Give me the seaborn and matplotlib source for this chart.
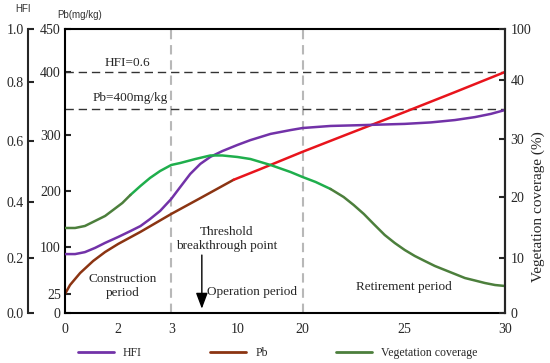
import numpy as np
import pandas as pd
import matplotlib
matplotlib.use("Agg")
import matplotlib.pyplot as plt
import seaborn as sns
from matplotlib.lines import Line2D
from matplotlib.ticker import FixedLocator, FixedFormatter, NullLocator

# ---------------- data ----------------
x_ticks = [0, 2, 3, 10, 20, 25, 30]
x_tick_labels = ["0", "2", "3", "10", "20", "25", "30"]
pb_ticks = [0, 25, 100, 200, 300, 400, 450]
pb_tick_labels = ["0", "25", "100", "200", "300", "400", "450"]
hfi_ticks = [0.0, 0.2, 0.4, 0.6, 0.8, 1.0]
hfi_tick_labels = ["0.0", "0.2", "0.4", "0.6", "0.8", "1.0"]
veg_ticks = [0, 10, 20, 30, 40, 100]
veg_tick_labels = ["0", "10", "20", "30", "40", "100"]

hfi_years = [0, 0.38, 0.75, 1.13, 1.51, 2, 2.23, 2.42, 2.60, 2.79, 3, 3.95, 5.01, 6.08,
             7.14, 8.41, 10, 12, 15.08, 18.15, 20, 21.37, 23, 25, 26.3, 27.5, 28.5, 29.3, 30]
hfi_values = [0.214, 0.214, 0.221, 0.236, 0.254, 0.275, 0.296, 0.314, 0.339, 0.368,
              0.410, 0.449, 0.492, 0.525, 0.548, 0.567, 0.587, 0.603, 0.624, 0.637,
              0.644, 0.651, 0.654, 0.658, 0.663, 0.671, 0.681, 0.692, 0.705]

pb_years = [0, 0.19, 0.57, 1.06, 1.51, 2, 2.42, 3, 6.1, 9.6, 13.5, 20, 22.1, 25, 27.5, 30]
pb_values = [25, 39.4, 58.5, 77.7, 92, 105.4, 127, 159, 187.5, 220, 239, 270, 300,
             336.5, 368, 400]

veg_years = [0, 0.38, 0.75, 1.13, 1.51, 1.81, 2.08, 2.23, 2.42, 2.60, 2.79, 3, 3.95,
             5.55, 7.14, 8.41, 10, 12, 15.08, 18.15, 20, 20.64, 21.37, 22.01, 22.5, 23,
             23.48, 24.02, 24.51, 25, 25.5, 26, 26.5, 27, 27.5, 28, 28.5, 29, 29.5, 30]
veg_values = [14.92, 14.92, 15.25, 16.07, 16.89, 17.87, 19.02, 20.34, 21.90, 23.28,
              24.48, 25.52, 25.86, 26.55, 27.16, 27.16, 26.9, 26.55, 25.52, 24.31,
              23.45, 22.59, 21.38, 20.0, 18.69, 17.21, 15.57, 13.77, 12.46, 11.31,
              10.33, 9.45, 8.55, 7.82, 7.09, 6.36, 5.91, 5.45, 5.09, 4.91]

hfi_threshold_pb_level = 400     # "HFI=0.6" dashed line
pb_threshold_pb_level = 341      # "Pb=400mg/kg" dashed line
period_breaks = [3, 20]

# ---------------- scale breakpoints (axis layout) ----------------
x_break_pos = [0, 53, 106, 172, 237, 339, 439]
pb_break_pos = [0, 19, 66, 122, 178, 241, 284]
hfi_break_pos = [0, 55, 111, 172, 231, 284]
veg_break_pos = [0, 55, 116, 174, 233, 284]


def piecewise(vals, pos):
    vals = np.asarray(vals, float)
    pos = np.asarray(pos, float)

    def fwd(v):
        v = np.asarray(v, float)
        out = np.interp(v, vals, pos)
        s0 = (pos[1] - pos[0]) / (vals[1] - vals[0])
        s1 = (pos[-1] - pos[-2]) / (vals[-1] - vals[-2])
        out = np.where(v < vals[0], pos[0] + (v - vals[0]) * s0, out)
        out = np.where(v > vals[-1], pos[-1] + (v - vals[-1]) * s1, out)
        return out

    def inv(p):
        p = np.asarray(p, float)
        out = np.interp(p, pos, vals)
        s0 = (vals[1] - vals[0]) / (pos[1] - pos[0])
        s1 = (vals[-1] - vals[-2]) / (pos[-1] - pos[-2])
        out = np.where(p < pos[0], vals[0] + (p - pos[0]) * s0, out)
        out = np.where(p > pos[-1], vals[-1] + (p - pos[-1]) * s1, out)
        return out

    return fwd, inv


sns.set_style("ticks")
plt.rcParams["font.family"] = ["Liberation Serif", "DejaVu Serif"]
plt.rcParams["axes.linewidth"] = 1.5
plt.rcParams["lines.solid_capstyle"] = "round"
plt.rcParams["lines.solid_joinstyle"] = "round"

PURPLE = "#7232a8"
BROWN = "#8b3412"
RED = "#e8141c"
GREEN = "#1fae4c"
DKGREEN = "#4c7f3c"
SERIF = ["Liberation Serif", "DejaVu Serif"]

fig = plt.figure(figsize=(5.5, 3.63), dpi=100)
ax = fig.add_axes([65 / 550, 1 - 313 / 363, 440 / 550, 284 / 363])
ax.set_xscale("function", functions=piecewise(x_ticks, x_break_pos))
ax.set_yscale("function", functions=piecewise(pb_ticks, pb_break_pos))

ax_h = ax.twinx()
ax_v = ax.twinx()
ax_h.set_yscale("function", functions=piecewise(hfi_ticks, hfi_break_pos))
ax_v.set_yscale("function", functions=piecewise(veg_ticks, veg_break_pos))

# period lines and threshold lines
for b in period_breaks:
    ax.axvline(b, color="#b8b8b8", lw=1.5, dashes=(4.5, 2.8), zorder=1)
ax.axhline(hfi_threshold_pb_level, color="#333333", lw=1.0, dashes=(6, 3.5), zorder=1)
ax.axhline(pb_threshold_pb_level, color="#333333", lw=1.0, dashes=(6, 3.5), zorder=1)

# curves
df_pb = pd.DataFrame({"year": pb_years, "pb": pb_values})
split = 9.6
sns.lineplot(data=df_pb[df_pb.year <= split], x="year", y="pb", ax=ax, color=BROWN,
             lw=1.8, estimator=None)
sns.lineplot(data=df_pb[df_pb.year >= split], x="year", y="pb", ax=ax, color=RED,
             lw=1.8, estimator=None)

df_v = pd.DataFrame({"year": veg_years, "veg": veg_values})
sns.lineplot(data=df_v[(df_v.year >= 2.23) & (df_v.year <= 21.37)], x="year", y="veg",
             ax=ax_v, color=GREEN, lw=1.8, estimator=None)
sns.lineplot(data=df_v[df_v.year <= 2.23], x="year", y="veg", ax=ax_v, color=DKGREEN,
             lw=1.8, estimator=None)
sns.lineplot(data=df_v[df_v.year >= 21.37], x="year", y="veg", ax=ax_v, color=DKGREEN,
             lw=1.8, estimator=None)

df_h = pd.DataFrame({"year": hfi_years, "hfi": hfi_values})
sns.lineplot(data=df_h, x="year", y="hfi", ax=ax_h, color=PURPLE, lw=1.8, estimator=None)

for a in (ax, ax_h, ax_v):
    a.set_xlabel("")
    a.set_ylabel("")

ax.set_xlim(0, 30)
ax.set_ylim(0, 450)
ax_h.set_ylim(0, 1.0)
ax_v.set_ylim(0, 100)

# x axis
ax.xaxis.set_major_locator(FixedLocator(x_ticks))
ax.xaxis.set_major_formatter(FixedFormatter(x_tick_labels))
ax.xaxis.set_minor_locator(NullLocator())
ax.tick_params(axis="x", length=0, pad=7, labelsize=10)

# Pb axis (left, at plot edge)
ax.yaxis.set_major_locator(FixedLocator(pb_ticks))
ax.yaxis.set_major_formatter(FixedFormatter(pb_tick_labels))
ax.yaxis.set_minor_locator(NullLocator())
ax.tick_params(axis="y", direction="in", length=4.5, width=1.5, pad=3, labelsize=10)

# HFI axis (offset left)
ax_h.spines["left"].set_position(("axes", -37 / 440))
ax_h.spines["left"].set_visible(True)
ax_h.spines["left"].set_linewidth(1.5)
for s in ("right", "top", "bottom"):
    ax_h.spines[s].set_visible(False)
ax_h.yaxis.set_ticks_position("left")
ax_h.yaxis.set_label_position("left")
ax_h.yaxis.set_major_locator(FixedLocator(hfi_ticks))
ax_h.yaxis.set_major_formatter(FixedFormatter(hfi_tick_labels))
ax_h.yaxis.set_minor_locator(NullLocator())
ax_h.tick_params(axis="y", direction="in", length=4.5, width=1.5, pad=3, labelsize=10)

# Vegetation axis (right)
for s in ("left", "top", "bottom"):
    ax_v.spines[s].set_visible(False)
ax_v.spines["right"].set_linewidth(1.5)
ax_v.yaxis.set_major_locator(FixedLocator(veg_ticks))
ax_v.yaxis.set_major_formatter(FixedFormatter(veg_tick_labels))
ax_v.yaxis.set_minor_locator(NullLocator())
ax_v.tick_params(axis="y", direction="in", length=4.5, width=1.5, pad=4, labelsize=10)

for s in ax.spines.values():
    s.set_linewidth(1.5)
    s.set_color("black")

# annotations
tk = dict(transform=ax.transAxes, ha="center", va="center", fontsize=9.5, family=SERIF)
ax.text(0.143, 0.880, "HFI=0.6", **tk)
ax.text(0.148, 0.757, "Pb=400mg/kg", **tk)
ax.text(0.130, 0.095, "Construction\nperiod", linespacing=1.15, **tk)
ax.text(0.368, 0.261, "Threshold\nbreakthrough point", linespacing=1.15, **tk)
ax.text(0.425, 0.074, "Operation period", **tk)
ax.text(0.770, 0.092, "Retirement period", **tk)
ax.annotate("", xy=(0.311, 0.015), xytext=(0.311, 0.204), xycoords="axes fraction",
            arrowprops=dict(arrowstyle="-|>,head_length=0.8,head_width=0.3",
                            color="black", lw=1.0, mutation_scale=12,
                            shrinkA=0, shrinkB=0))

# axis titles
fig.text(23 / 550, 1 - 9 / 363, "HFI", ha="center", va="center", fontsize=7,
         family=["Liberation Sans", "DejaVu Sans"], color="#333333")
fig.text(80 / 550, 1 - 15 / 363, "Pb(mg/kg)", ha="center", va="center", fontsize=7,
         family=["Liberation Sans", "DejaVu Sans"], color="#333333")
fig.text(538 / 550, 1 - 207 / 363, "Vegetation coverage (%)", rotation=90,
         ha="center", va="center", fontsize=11, family=SERIF)

# legend
handles = [Line2D([], [], color=PURPLE, lw=2),
           Line2D([], [], color=BROWN, lw=2),
           Line2D([], [], color=DKGREEN, lw=2)]
fig.legend(handles, ["HFI", "Pb", "Vegetation coverage"], ncol=3, frameon=False,
           loc="center", bbox_to_anchor=(0.505, 1 - 353 / 363),
           prop={"family": SERIF, "size": 8.5}, handlelength=3.0,
           columnspacing=5.8, handletextpad=0.8)

fig.savefig("out.png", dpi=100)
